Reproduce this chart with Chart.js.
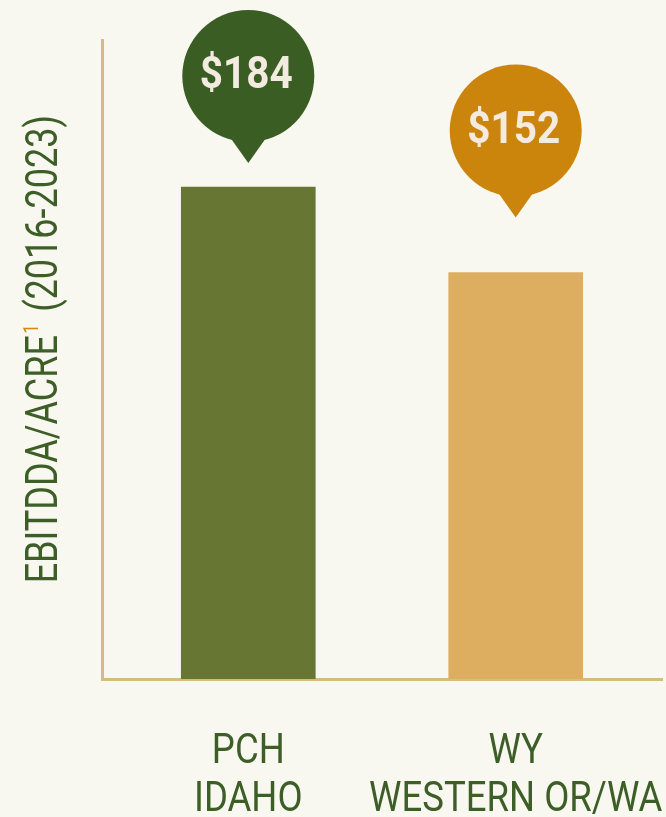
<!DOCTYPE html>
<html>
<head>
<meta charset="utf-8">
<script src="https://cdn.jsdelivr.net/npm/chart.js@4"></script>
<style>
  html, body { margin: 0; padding: 0; background: #f8f8f1; }
  #wrap { width: 666px; height: 817px; }
</style>
</head>
<body>
<div id="wrap"><canvas id="barChart"></canvas></div>
<script>
// categories (two-line labels) and values
const categories = [['PCH', 'IDAHO'], ['WY', 'WESTERN OR/WA']];
const values = [184, 152];
const valueLabels = ['$184', '$152'];
const barColors = ['#677733', '#ddae5f'];
const bubbleColors = ['#3a5d24', '#cc850c'];
const bubbleGaps = [24, 55]; // space between bubble tip and bar top
const axisTitle = 'EBITDDA/ACRE';
const axisNote = '1';
const axisPeriod = '(2016-2023)';

const green = '#3d5e27';
const tan = '#d5bd7f';

const bgPlugin = {
  id: 'bg',
  beforeDraw(chart) {
    const c = chart.ctx;
    c.save();
    c.fillStyle = '#f8f8f1';
    c.fillRect(0, 0, chart.width, chart.height);
    c.restore();
  }
};

// speech-bubble value labels above each bar
const bubblePlugin = {
  id: 'bubbles',
  afterDatasetsDraw(chart) {
    const c = chart.ctx;
    const meta = chart.getDatasetMeta(0);
    meta.data.forEach((bar, i) => {
      const cx = bar.x;
      const tipY = bar.y - bubbleGaps[i];
      const cy = tipY - 87;
      const r = 66;
      c.save();
      c.fillStyle = bubbleColors[i];
      c.beginPath();
      c.arc(cx, cy, r, 0, Math.PI * 2);
      c.fill();
      c.beginPath();
      c.moveTo(cx - 17, cy + 63);
      c.lineTo(cx, tipY);
      c.lineTo(cx + 17, cy + 63);
      c.closePath();
      c.fill();
      c.translate(cx - 2, cy + 1);
      c.scale(0.9, 1);
      c.fillStyle = '#f3ebdf';
      c.font = 'bold 45px Roboto';
      c.textAlign = 'center';
      c.textBaseline = 'middle';
      c.fillText(valueLabels[i], 0, 0);
      c.restore();
    });
  }
};

// category labels under the x axis, placed with the x scale (condensed look)
const xLabelPlugin = {
  id: 'xlabels',
  afterDraw(chart) {
    const c = chart.ctx;
    const xs = chart.scales.x;
    c.save();
    c.fillStyle = green;
    c.font = '42px Roboto';
    c.textAlign = 'center';
    c.textBaseline = 'alphabetic';
    categories.forEach((lines, i) => {
      const px = xs.getPixelForValue(i);
      lines.forEach((t, k) => {
        c.save();
        c.translate(px, xs.top + 84 + k * 48);
        c.scale(0.87, 1);
        c.fillText(t, 0, 0);
        c.restore();
      });
    });
    c.restore();
  }
};

// rotated y title with orange footnote mark
const titlePlugin = {
  id: 'ytitle',
  afterDraw(chart) {
    const c = chart.ctx;
    c.save();
    c.translate(57, 350);
    c.rotate(-Math.PI / 2);
    c.scale(0.8, 1);
    c.font = '45px Roboto';
    const w1 = c.measureText(axisTitle).width;
    const w2 = c.measureText(axisPeriod).width;
    c.font = '20px Roboto';
    const wn = c.measureText(axisNote).width;
    const gap = 16;
    const total = w1 + wn + gap + w2;
    let x = -total / 2;
    c.textBaseline = 'alphabetic';
    c.textAlign = 'left';
    c.font = '45px Roboto';
    c.fillStyle = green;
    c.fillText(axisTitle, x, 0);
    x += w1 + 2;
    c.font = '20px Roboto';
    c.fillStyle = '#d4880f';
    c.fillText(axisNote, x, -19);
    x += wn + gap;
    c.font = '45px Roboto';
    c.fillStyle = green;
    c.fillText(axisPeriod, x, 0);
    c.restore();
  }
};

const ctx = document.getElementById('barChart').getContext('2d');
new Chart(ctx, {
  type: 'bar',
  data: {
    datasets: [{
      data: values.map((v, i) => ({ x: i, y: v })),
      backgroundColor: barColors,
      barThickness: 134,
      borderWidth: 0
    }]
  },
  options: {
    responsive: true,
    maintainAspectRatio: false,
    animation: false,
    devicePixelRatio: 1,
    layout: { padding: { left: 102, right: 4, top: 40, bottom: 0 } },
    plugins: { legend: { display: false }, tooltip: { enabled: false } },
    scales: {
      x: {
        type: 'linear',
        offset: false,
        min: -0.547,
        max: 1.547,
        afterBuildTicks(scale) { scale.ticks = categories.map((c, i) => ({ value: i })); },
        afterFit(scale) { scale.height = 138; },
        grid: { display: false, offset: false },
        border: { color: tan, width: 3 },
        ticks: { display: false }
      },
      y: {
        min: 0,
        max: 239,
        afterFit(scale) { scale.width = 0; },
        grid: { display: false },
        border: { color: tan, width: 3 },
        ticks: { display: false }
      }
    }
  },
  plugins: [bgPlugin, bubblePlugin, xLabelPlugin, titlePlugin]
});
</script>
</body>
</html>
